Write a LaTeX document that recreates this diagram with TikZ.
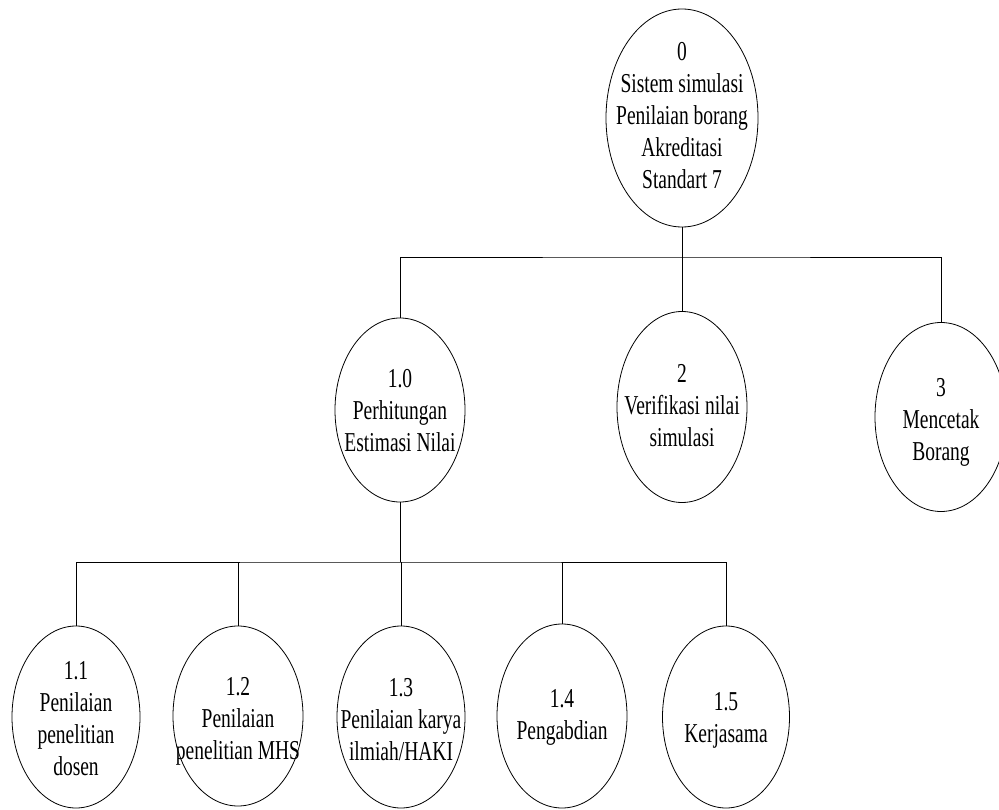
\documentclass[tikz,border=0pt]{standalone}
\usepackage{fontspec}
\usepackage{graphicx}
\setmainfont{Liberation Serif}
\usetikzlibrary{shapes.geometric}
\newcommand{\tx}[1]{\scalebox{1}[1.4]{\fontsize{19.5}{23}\selectfont\begin{tabular}{@{}c@{}}#1\end{tabular}}}
\tikzset{
  proc/.style={ellipse, draw, line width=0.8pt, inner sep=0pt, minimum width=#1},
  txt/.style={inner sep=0pt, align=center},
  conn/.style={line width=0.8pt}
}
\begin{document}
\begin{tikzpicture}[x=1pt, y=-1pt]
\useasboundingbox (0,0) rectangle (999,810);
\clip (0,0) rectangle (999,810);
% level 0
\node[proc=152pt, minimum height=218pt] (e0) at (682,118) {};
\node[txt] (t0) at (682,118) {\tx{0\\Sistem simulasi\\Penilaian borang\\Akreditasi\\Standart 7}};
% level 1
\node[proc=130pt, minimum height=184pt] (e1) at (400,410) {};
\node[txt] (t1) at (400,413) {\tx{1.0\\Perhitungan\\Estimasi Nilai}};
\node[proc=130pt, minimum height=191pt] (e2) at (682,407) {};
\node[txt] (t2) at (682,408) {\tx{2\\Verifikasi nilai\\simulasi}};
\node[proc=132pt, minimum height=189pt] (e3) at (941,417) {};
\node[txt] (t3) at (941,422) {\tx{3\\Mencetak\\Borang}};
% level 2
\node[proc=128pt, minimum height=182pt] (e11) at (76,717) {};
\node[txt] (t11) at (76,721) {\tx{1.1\\Penilaian\\penelitian\\dosen}};
\node[proc=130pt, minimum height=180pt] (e12) at (238,716) {};
\node[txt] (t12) at (238,721) {\tx{1.2\\Penilaian\\penelitian MHS}};
\node[proc=128pt, minimum height=182pt] (e13) at (401,717) {};
\node[txt] (t13) at (401,722) {\tx{1.3\\Penilaian karya\\ilmiah/HAKI}};
\node[proc=130pt, minimum height=184pt] (e14) at (562,716) {};
\node[txt] (t14) at (562,717) {\tx{1.4\\Pengabdian}};
\node[proc=127pt, minimum height=182pt] (e15) at (726,717) {};
\node[txt] (t15) at (726,720) {\tx{1.5\\Kerjasama}};
% connectors level 0 -> 1
\coordinate (b1) at (682,257);
\draw[conn] (e0.south) -- (b1);
\draw[conn] (e1.north) |- (b1) -| (e3.north);
\draw[conn] (b1) -- (e2.north);
% connectors level 1 -> 2
\coordinate (b2) at (400,562);
\draw[conn] (e1.south) -- (b2);
\draw[conn] (e11.north) |- (b2) -| (e15.north);
\draw[conn] (e12.north) -- (e12.north |- b2);
\draw[conn] (e13.north) -- (e13.north |- b2);
\draw[conn] (e14.north) -- (e14.north |- b2);
\end{tikzpicture}
\end{document}
